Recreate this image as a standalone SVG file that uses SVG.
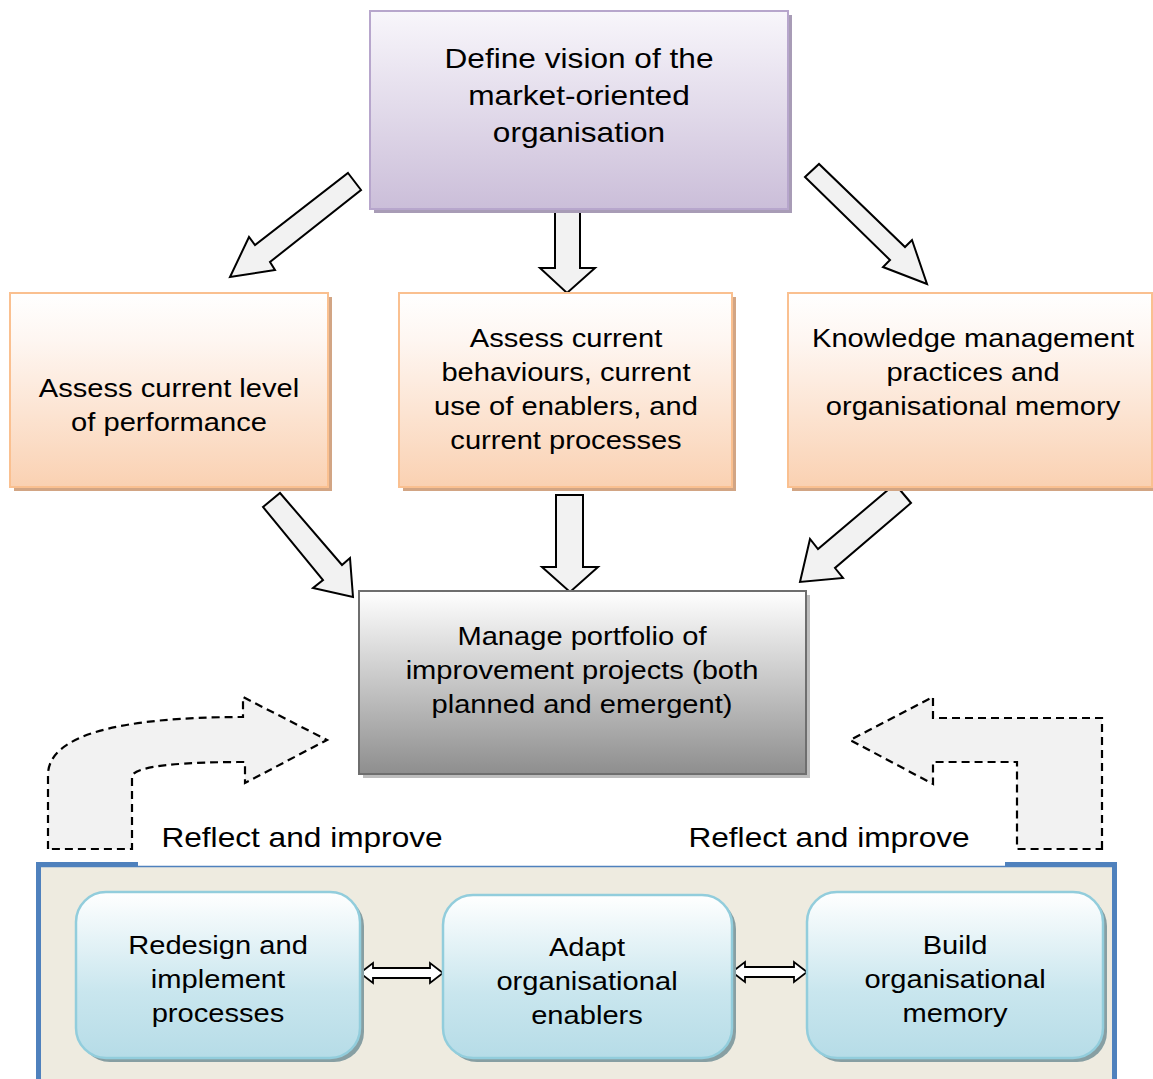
<svg xmlns="http://www.w3.org/2000/svg" width="1153" height="1079" viewBox="0 0 1153 1079">
<defs>
<linearGradient id="gPurple" x1="0" y1="0" x2="0" y2="1"><stop offset="0" stop-color="#F8F6FB"/><stop offset="1" stop-color="#CBBED9"/></linearGradient>
<linearGradient id="gOrange" x1="0" y1="0" x2="0" y2="1"><stop offset="0" stop-color="#FFFFFF"/><stop offset="0.25" stop-color="#FEF6F1"/><stop offset="1" stop-color="#FAD1B2"/></linearGradient>
<linearGradient id="gGray" x1="0" y1="0" x2="0" y2="1"><stop offset="0" stop-color="#FFFFFF"/><stop offset="1" stop-color="#8E8E8E"/></linearGradient>
<linearGradient id="gBlue" x1="0" y1="0" x2="0" y2="1"><stop offset="0" stop-color="#FFFFFF"/><stop offset="0.6" stop-color="#C9E6EE"/><stop offset="1" stop-color="#B6DCE7"/></linearGradient>
<style>
text{font-family:"Liberation Sans",Arial,sans-serif;fill:#000;text-anchor:middle}
.t28{font-size:28px}
.t26{font-size:26px}
.blk{fill:#F2F2F2;stroke:#000;stroke-width:2;stroke-linejoin:miter}
.dash{fill:#F2F2F2;stroke:#000;stroke-width:2.2;stroke-dasharray:8 5}
.dbl{fill:#FFFFFF;stroke:#000;stroke-width:1.8}
</style>
</defs>
<rect width="1153" height="1079" fill="#FFFFFF"/>

<!-- bottom container -->
<g id="container">
<rect x="38" y="866.5" width="1076" height="220" fill="#EEEBE0" stroke="#4F81BD" stroke-width="1.5"/>
<rect x="36" y="862" width="5" height="217" fill="#4F81BD"/>
<rect x="36" y="862" width="102" height="4.5" fill="#4F81BD"/>
<rect x="1005" y="862" width="112" height="4.5" fill="#4F81BD"/>
<rect x="1112" y="862" width="5" height="217" fill="#4F81BD"/>
</g>

<g id="connectors">
<polygon class="blk" points="348,173 361,190 270,262 275,270 230,277 249,237 255,245"/>
<polygon class="blk" points="555,209 580,209 580,268 595,268 567,293 540,268 555,268"/>
<polygon class="blk" points="805,177 819,164 905,247 912,240 927,284 883,267 890,260"/>
<polygon class="blk" points="263,507 280,493 342,565 350,558 353,597 313,588 323,580"/>
<polygon class="blk" points="556,495 583,495 583,567 598,567 570,592 542,567 556,567"/>
<polygon class="blk" points="895,484 911,503 835,568 843,578 800,582 810,539 818,549"/>
<path class="dash" d="M48,849 L48,775 C48,735 120,717 243,717 L243,697 L327,740 L245,783 L245,762 C190,762 132,765 132,777 L132,849 Z"/>
<path class="dash" d="M1102,849 L1102,718 L933,718 L933,697 L850,740 L933,784 L933,762 L1017,762 L1017,849 Z"/>
<polygon class="dbl" points="360,973 373,963 373,968 430,968 430,963 443,973 430,983 430,978 373,978 373,983"/>
<polygon class="dbl" points="732,972 745,962 745,967 794,967 794,962 807,972 794,982 794,977 745,977 745,982"/>
</g>

<g id="n-vision">
<rect x="374" y="15" width="418" height="198" fill="#A89CB6"/>
<rect x="370" y="11" width="418" height="198" fill="url(#gPurple)" stroke="#B7A6CC" stroke-width="2"/>
<g transform="translate(579,0) scale(1.13,1)" class="t28">
<text x="0" y="68">Define vision of the</text>
<text x="0" y="105">market-oriented</text>
<text x="0" y="142">organisation</text>
</g>
</g>

<g id="n-performance">
<rect x="14" y="297" width="318" height="194" fill="#D2A584"/>
<rect x="10" y="293" width="318" height="194" fill="url(#gOrange)" stroke="#FAC090" stroke-width="2"/>
<g transform="translate(169,0) scale(1.12,1)" class="t26">
<text x="0" y="397">Assess current level</text>
<text x="0" y="431">of performance</text>
</g>
</g>

<g id="n-behaviours">
<rect x="403" y="297" width="333" height="194" fill="#D2A584"/>
<rect x="399" y="293" width="333" height="194" fill="url(#gOrange)" stroke="#FAC090" stroke-width="2"/>
<g transform="translate(566,0) scale(1.12,1)" class="t26">
<text x="0" y="347">Assess current</text>
<text x="0" y="381">behaviours, current</text>
<text x="0" y="415">use of enablers, and</text>
<text x="0" y="449">current processes</text>
</g>
</g>

<g id="n-knowledge">
<rect x="792" y="297" width="362" height="194" fill="#D2A584"/>
<rect x="788" y="293" width="364" height="194" fill="url(#gOrange)" stroke="#FAC090" stroke-width="2"/>
<g transform="translate(973,0) scale(1.12,1)" class="t26">
<text x="0" y="347">Knowledge management</text>
<text x="0" y="381">practices and</text>
<text x="0" y="415">organisational memory</text>
</g>
</g>

<g id="n-portfolio">
<rect x="363" y="595" width="447" height="183" fill="#BDBDBD"/>
<rect x="359" y="591" width="447" height="183" fill="url(#gGray)" stroke="#6E6E6E" stroke-width="2"/>
<g transform="translate(582,0) scale(1.12,1)" class="t26">
<text x="0" y="645">Manage portfolio of</text>
<text x="0" y="679">improvement projects (both</text>
<text x="0" y="713">planned and emergent)</text>
</g>
</g>

<g id="n-reflect-left">
<g transform="translate(302,0) scale(1.13,1)" class="t28"><text x="0" y="847">Reflect and improve</text></g>
</g>
<g id="n-reflect-right">
<g transform="translate(829,0) scale(1.13,1)" class="t28"><text x="0" y="847">Reflect and improve</text></g>
</g>

<g id="n-redesign">
<rect x="80" y="896" width="284" height="166" rx="30" fill="#879FA3"/>
<rect x="76" y="892" width="284" height="166" rx="30" fill="url(#gBlue)" stroke="#92CDDC" stroke-width="2.5"/>
<g transform="translate(218,0) scale(1.12,1)" class="t26">
<text x="0" y="954">Redesign and</text>
<text x="0" y="988">implement</text>
<text x="0" y="1022">processes</text>
</g>
</g>

<g id="n-adapt">
<rect x="447" y="899" width="289" height="163" rx="30" fill="#879FA3"/>
<rect x="443" y="895" width="289" height="163" rx="30" fill="url(#gBlue)" stroke="#92CDDC" stroke-width="2.5"/>
<g transform="translate(587,0) scale(1.12,1)" class="t26">
<text x="0" y="956">Adapt</text>
<text x="0" y="990">organisational</text>
<text x="0" y="1024">enablers</text>
</g>
</g>

<g id="n-memory">
<rect x="811" y="896" width="296" height="166" rx="30" fill="#879FA3"/>
<rect x="807" y="892" width="296" height="166" rx="30" fill="url(#gBlue)" stroke="#92CDDC" stroke-width="2.5"/>
<g transform="translate(955,0) scale(1.12,1)" class="t26">
<text x="0" y="954">Build</text>
<text x="0" y="988">organisational</text>
<text x="0" y="1022">memory</text>
</g>
</g>
</svg>
